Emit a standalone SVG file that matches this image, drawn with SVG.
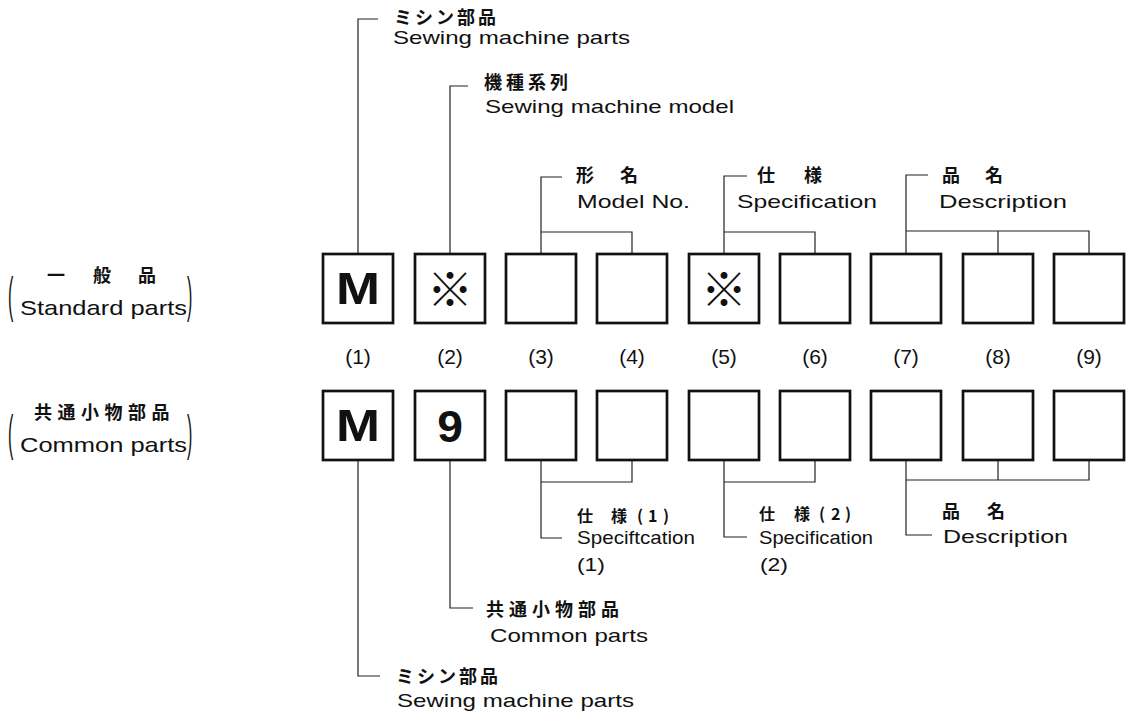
<svg xmlns="http://www.w3.org/2000/svg" width="1131" height="715" viewBox="0 0 1131 715">
<style>
.bg{fill:#fff}
.box{fill:#fff;stroke:#111;stroke-width:2.7}
.ln{fill:none;stroke:#222;stroke-width:1.2}
.en{font-family:"Liberation Sans",Arial,sans-serif;font-size:19px;fill:#111}
.enl{font-family:"Liberation Sans",Arial,sans-serif;font-size:21px;fill:#111}
.jp{font-family:"Noto Sans CJK JP","Noto Sans CJK SC",sans-serif;font-size:18px;font-weight:bold;fill:#111}
.jps{font-family:"Noto Sans CJK JP","Noto Sans CJK SC",sans-serif;font-size:16px;font-weight:bold;fill:#111}
.idx{font-family:"Liberation Sans",Arial,sans-serif;font-size:21px;fill:#111;text-anchor:middle}
.big{font-family:"Liberation Sans",Arial,sans-serif;font-weight:bold;font-size:44px;fill:#111;text-anchor:middle}
.kome{font-family:"Noto Sans CJK JP","Noto Sans CJK SC",sans-serif;font-size:46px;fill:#111;text-anchor:middle}
.par{font-family:"Liberation Sans",Arial,sans-serif;font-size:50px;fill:#111}
</style>
<rect class="bg" x="0" y="0" width="1131" height="715"/>

<g id="connectors">
<path class="ln" d="M358 254 V19 H378"/>
<path class="ln" d="M450 254 V86 H468"/>
<path class="ln" d="M541 254 V177 H562 M541 232 H632 V254"/>
<path class="ln" d="M724 254 V176 H747 M724 232 H815 V254"/>
<path class="ln" d="M906 254 V175 H928 M906 231 H1089 V254 M998 231 V254"/>
<path class="ln" d="M358 460 V676 H380"/>
<path class="ln" d="M450 460 V608 H473"/>
<path class="ln" d="M541 460 V538 H562 M541 482 H632 V460"/>
<path class="ln" d="M724 460 V537 H747 M724 482 H815 V460"/>
<path class="ln" d="M906 460 V535 H932 M906 480 H1089 V460 M998 480 V460"/>
</g>

<g id="label-standard">
<text class="par" transform="translate(8,312) scale(0.32,1)">(</text>
<text class="par" transform="translate(187,312) scale(0.32,1)">)</text>
<text class="jp" x="47 93 138" y="282">一般品</text>
<text class="enl" x="20" y="315" textLength="167" lengthAdjust="spacingAndGlyphs">Standard parts</text>
</g>
<g id="label-common">
<text class="par" transform="translate(8,450) scale(0.32,1)">(</text>
<text class="par" transform="translate(187,450) scale(0.32,1)">)</text>
<text class="jp" x="34" y="419" letter-spacing="5.5">共通小物部品</text>
<text class="enl" x="20" y="452" textLength="167" lengthAdjust="spacingAndGlyphs">Common parts</text>
</g>

<g id="top-labels">
<g id="t-sewing">
<text class="jp" x="394" y="24" letter-spacing="3">ミシン部品</text>
<text class="en" x="393" y="44" textLength="237" lengthAdjust="spacingAndGlyphs">Sewing machine parts</text>
</g>
<g id="t-model-series">
<text class="jp" x="484" y="89" letter-spacing="4">機種系列</text>
<text class="en" x="485" y="113" textLength="249" lengthAdjust="spacingAndGlyphs">Sewing machine model</text>
</g>
<g id="t-model-no">
<text class="jp" x="576 600 620" y="182">形 名</text>
<text class="en" x="577" y="208" textLength="113" lengthAdjust="spacingAndGlyphs">Model No.</text>
</g>
<g id="t-spec">
<text class="jp" x="757 785 804" y="182">仕 様</text>
<text class="en" x="737" y="208" textLength="140" lengthAdjust="spacingAndGlyphs">Specification</text>
</g>
<g id="t-desc">
<text class="jp" x="942 965 985" y="182">品 名</text>
<text class="en" x="939" y="208" textLength="128" lengthAdjust="spacingAndGlyphs">Description</text>
</g>
</g>

<g id="row-standard">
<g id="s1"><rect class="box" x="323" y="254" width="70" height="69"/><text class="big" transform="translate(358,304) scale(1.2,1)">M</text></g>
<g id="s2"><rect class="box" x="415" y="254" width="70" height="69"/><text class="kome" x="450" y="306">※</text></g>
<g id="s3"><rect class="box" x="506" y="254" width="70" height="69"/></g>
<g id="s4"><rect class="box" x="597" y="254" width="70" height="69"/></g>
<g id="s5"><rect class="box" x="689" y="254" width="70" height="69"/><text class="kome" x="724" y="306">※</text></g>
<g id="s6"><rect class="box" x="780" y="254" width="70" height="69"/></g>
<g id="s7"><rect class="box" x="871" y="254" width="70" height="69"/></g>
<g id="s8"><rect class="box" x="963" y="254" width="70" height="69"/></g>
<g id="s9"><rect class="box" x="1054" y="254" width="70" height="69"/></g>
</g>

<g id="indices">
<text class="idx" x="358" y="364">(1)</text>
<text class="idx" x="450" y="364">(2)</text>
<text class="idx" x="541" y="364">(3)</text>
<text class="idx" x="632" y="364">(4)</text>
<text class="idx" x="724" y="364">(5)</text>
<text class="idx" x="815" y="364">(6)</text>
<text class="idx" x="906" y="364">(7)</text>
<text class="idx" x="998" y="364">(8)</text>
<text class="idx" x="1089" y="364">(9)</text>
</g>

<g id="row-common">
<g id="c1"><rect class="box" x="323" y="391" width="70" height="69"/><text class="big" transform="translate(358,441) scale(1.2,1)">M</text></g>
<g id="c2"><rect class="box" x="415" y="391" width="70" height="69"/><text class="big" transform="translate(450,442) scale(1.05,1)" font-size="48">9</text></g>
<g id="c3"><rect class="box" x="506" y="391" width="70" height="69"/></g>
<g id="c4"><rect class="box" x="597" y="391" width="70" height="69"/></g>
<g id="c5"><rect class="box" x="689" y="391" width="70" height="69"/></g>
<g id="c6"><rect class="box" x="780" y="391" width="70" height="69"/></g>
<g id="c7"><rect class="box" x="871" y="391" width="70" height="69"/></g>
<g id="c8"><rect class="box" x="963" y="391" width="70" height="69"/></g>
<g id="c9"><rect class="box" x="1054" y="391" width="70" height="69"/></g>
</g>

<g id="bottom-labels">
<g id="b-spec1">
<text class="jps" x="577 595 611 630 637 648 663" y="522">仕 様 (1)</text>
<text class="en" x="577" y="544" textLength="118" lengthAdjust="spacingAndGlyphs">Speciftcation</text>
<text class="en" x="577" y="571" textLength="28" lengthAdjust="spacingAndGlyphs">(1)</text>
</g>
<g id="b-spec2">
<text class="jps" x="759 778 794 812 819 831 845" y="520">仕 様 (2)</text>
<text class="en" x="759" y="544" textLength="114" lengthAdjust="spacingAndGlyphs">Specification</text>
<text class="en" x="760" y="571" textLength="28" lengthAdjust="spacingAndGlyphs">(2)</text>
</g>
<g id="b-desc">
<text class="jp" x="942 965 987" y="518">品 名</text>
<text class="en" x="943" y="543" textLength="125" lengthAdjust="spacingAndGlyphs">Description</text>
</g>
<g id="b-common">
<text class="jp" x="486" y="616" letter-spacing="5">共通小物部品</text>
<text class="en" x="490" y="642" textLength="158" lengthAdjust="spacingAndGlyphs">Common parts</text>
</g>
<g id="b-sewing">
<text class="jp" x="396" y="683" letter-spacing="3">ミシン部品</text>
<text class="en" x="397" y="707" textLength="237" lengthAdjust="spacingAndGlyphs">Sewing machine parts</text>
</g>
</g>
</svg>
